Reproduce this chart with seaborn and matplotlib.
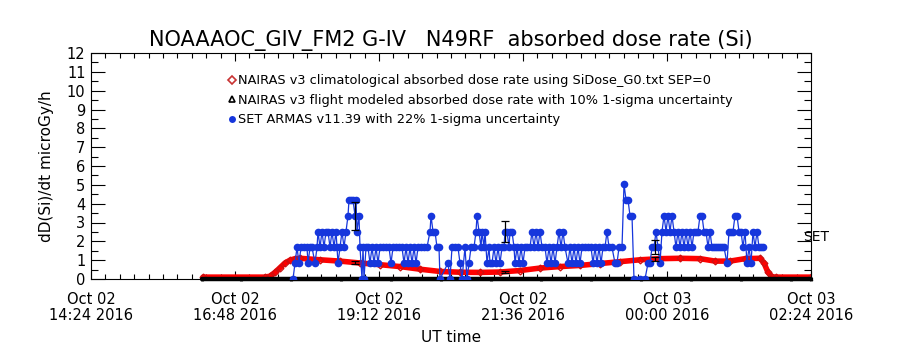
import numpy as np
import pandas as pd
import matplotlib
matplotlib.use("Agg")
import matplotlib.pyplot as plt
import matplotlib.ticker as mticker
import matplotlib.transforms as mtransforms
from matplotlib.lines import Line2D
import seaborn as sns

# ---------------- data (minutes after 2016-10-02 14:24 UT) ----------------
start_time = "2016-10-02 14:24"

clim_minutes = [112, 174, 179, 184, 189, 194, 199, 204, 209, 229, 249, 269, 289, 309,
                329, 349, 369, 389, 409, 429, 449, 469, 489, 509, 529, 549, 569, 589,
                609, 624, 639, 654, 669, 673, 677, 681, 685, 720]
clim_dose = [0.10, 0.10, 0.15, 0.35, 0.60, 0.85, 1.00, 1.08, 1.10, 1.02, 0.95, 0.85, 0.76, 0.66,
             0.52, 0.40, 0.36, 0.35, 0.37, 0.45, 0.58, 0.66, 0.72, 0.82, 0.92, 1.02, 1.08, 1.10,
             1.08, 0.95, 0.95, 1.08, 1.10, 0.85, 0.35, 0.12, 0.10, 0.10]

flight_minutes = [111, 150, 200, 250, 300, 350, 400, 450, 500, 550, 600, 650, 700, 720]
flight_dose = [0.0, 0.0, 0.0, 0.0, 0.0, 0.0, 0.0, 0.0, 0.0, 0.0, 0.0, 0.0, 0.0, 0.0]

set_minutes = [202, 204, 206, 208, 210, 213, 216, 217, 219, 221, 224, 226, 227, 229, 231, 233,
               235, 237, 239, 241, 243, 245, 246, 247, 249, 251, 253, 255, 257, 258, 260, 262,
               264, 265, 266, 268, 269, 271, 272, 273, 275, 277, 279, 281, 283, 285, 287, 289,
               292, 295, 298, 300, 302, 305, 308, 311, 313, 315, 317, 319, 321, 323, 325, 327,
               330, 333, 336, 339, 340, 342, 344, 346, 348, 349, 357, 359, 361, 364, 367, 369,
               371, 374, 376, 378, 380, 383, 385, 386, 388, 390, 391, 393, 394, 396, 398, 399,
               401, 403, 405, 407, 409, 411, 413, 414, 416, 418, 419, 421, 423, 424, 426, 428,
               430, 432, 434, 436, 439, 441, 443, 445, 447, 449, 451, 454, 456, 458, 460, 462,
               464, 466, 468, 470, 472, 474, 477, 479, 481, 483, 485, 487, 489, 491, 494, 497,
               500, 502, 504, 506, 508, 510, 512, 514, 516, 518, 521, 524, 526, 528, 531, 533,
               535, 537, 539, 541, 543, 549, 554, 557, 559, 561, 563, 565, 567, 569, 571, 573,
               575, 577, 579, 581, 583, 585, 587, 589, 591, 593, 595, 597, 599, 601, 603, 605,
               607, 609, 611, 613, 615, 617, 619, 621, 623, 625, 627, 629, 631, 633, 636, 638,
               640, 642, 644, 646, 648, 650, 652, 654, 656, 658, 660, 662, 664, 666, 668, 670,
               672]
set_dose = [0.00, 0.84, 1.68, 0.84, 1.68, 1.68, 1.68, 0.84, 1.68, 1.68, 0.84, 1.68, 2.52, 1.68, 2.52, 1.68,
            2.52, 2.52, 1.68, 2.52, 1.68, 2.52, 1.68, 0.84, 1.68, 2.52, 1.68, 2.52, 3.36, 4.20, 4.20, 4.20,
            3.36, 4.20, 2.52, 3.36, 1.68, 0.00, 1.68, 0.00, 1.68, 1.68, 0.84, 1.68, 0.84, 1.68, 0.84, 1.68,
            1.68, 1.68, 1.68, 0.84, 1.68, 1.68, 1.68, 1.68, 0.84, 1.68, 0.84, 1.68, 0.84, 1.68, 0.84, 1.68,
            1.68, 1.68, 1.68, 2.52, 3.36, 2.52, 2.52, 1.68, 1.68, 0.00, 0.84, 0.00, 1.68, 1.68, 1.68, 0.84,
            0.00, 1.68, 0.00, 0.84, 1.68, 1.68, 2.52, 3.36, 2.52, 1.68, 2.52, 1.68, 2.52, 0.84, 1.68, 0.84,
            0.84, 1.68, 0.84, 1.68, 0.84, 1.68, 1.68, 2.52, 2.52, 1.68, 2.52, 2.52, 1.68, 0.84, 1.68, 0.84,
            1.68, 0.84, 1.68, 1.68, 1.68, 2.52, 1.68, 2.52, 1.68, 2.52, 1.68, 1.68, 0.84, 1.68, 0.84, 1.68,
            0.84, 1.68, 2.52, 1.68, 2.52, 1.68, 0.84, 1.68, 0.84, 1.68, 0.84, 1.68, 0.84, 1.68, 1.68, 1.68,
            1.68, 0.84, 1.68, 0.84, 1.68, 0.84, 1.68, 1.68, 2.52, 1.68, 1.68, 0.84, 0.84, 1.68, 1.68, 5.04,
            4.20, 4.20, 3.36, 3.36, 0.00, 0.00, 0.00, 0.84, 0.84, 1.68, 1.68, 2.52, 1.68, 0.84, 2.52, 3.36,
            2.52, 3.36, 2.52, 3.36, 2.52, 1.68, 2.52, 1.68, 2.52, 1.68, 2.52, 1.68, 2.52, 1.68, 2.52, 2.52,
            2.52, 3.36, 3.36, 2.52, 2.52, 1.68, 2.52, 1.68, 1.68, 1.68, 1.68, 1.68, 1.68, 1.68, 0.84, 2.52,
            2.52, 2.52, 3.36, 3.36, 2.52, 2.52, 1.68, 2.52, 0.84, 1.68, 0.84, 2.52, 1.68, 2.52, 1.68, 1.68,
            1.68]

err_minutes = [264, 414, 564]
err_set_dose = [3.36, 2.52, 1.68]
err_set_sigma = [0.74, 0.55, 0.37]
err_model_dose = [0.87, 0.38, 1.06]
err_model_sigma = [0.09, 0.04, 0.11]

tick_minutes = [0, 144, 288, 432, 576, 720]
tick_labels = ["Oct 02\n14:24 2016", "Oct 02\n16:48 2016", "Oct 02\n19:12 2016",
               "Oct 02\n21:36 2016", "Oct 03\n00:00 2016", "Oct 03\n02:24 2016"]

legend_labels = ["NAIRAS v3 climatological absorbed dose rate using SiDose_G0.txt SEP=0",
                 "NAIRAS v3 flight modeled absorbed dose rate with 10% 1-sigma uncertainty",
                 "SET ARMAS v11.39 with 22% 1-sigma uncertainty"]

title = "NOAAAOC_GIV_FM2 G-IV   N49RF  absorbed dose rate (Si)"

# ---------------- build frames ----------------
t0 = pd.Timestamp(start_time)
def to_time(mins):
    return t0 + pd.to_timedelta(np.asarray(mins, dtype=float), unit="min")

clim_df = pd.DataFrame({"time": to_time(clim_minutes), "dose": clim_dose})
flight_df = pd.DataFrame({"time": to_time(flight_minutes), "dose": flight_dose})
set_df = pd.DataFrame({"time": to_time(set_minutes), "dose": set_dose})

# ---------------- style ----------------
sns.set_theme(style="ticks")
plt.rcParams["font.family"] = ["DejaVu Sans"]
plt.rcParams["text.color"] = "black"
plt.rcParams["axes.labelcolor"] = "black"
plt.rcParams["xtick.color"] = "black"
plt.rcParams["ytick.color"] = "black"
plt.rcParams["axes.edgecolor"] = "black"

BLUE = "#1636dc"
RED = "#ff0000"

fig = plt.figure(figsize=(9, 3.5), dpi=100)
ax = fig.add_axes([91 / 900, 71 / 350, 720 / 900, 226 / 350])

sns.lineplot(data=clim_df, x="time", y="dose", ax=ax, color=RED, linewidth=4.0,
             marker="D", markersize=3.5, markerfacecolor="none",
             markeredgecolor="#cc1010", markeredgewidth=0.9, zorder=2)
sns.lineplot(data=flight_df, x="time", y="dose", ax=ax, color="black", linewidth=3.2,
             marker="^", markersize=2, markerfacecolor="black", markeredgecolor="black",
             clip_on=False, zorder=3)
sns.lineplot(data=set_df, x="time", y="dose", ax=ax, color=BLUE, linewidth=0.9,
             marker="o", markersize=5.5, markeredgewidth=0, zorder=4)

ax.errorbar(to_time(err_minutes), err_set_dose, yerr=err_set_sigma, fmt="none",
            ecolor="black", elinewidth=0.9, capsize=3, capthick=0.9, zorder=5)
ax.errorbar(to_time(err_minutes), err_model_dose, yerr=err_model_sigma, fmt="none",
            ecolor="black", elinewidth=0.9, capsize=3, capthick=0.9, zorder=5)

ax.set_xlim(t0, t0 + pd.Timedelta(minutes=720))
ax.set_ylim(0, 12)

ax.set_xticks(list(to_time(tick_minutes)))
ax.set_xticklabels(tick_labels, fontsize=10.5, linespacing=1.1)
ax.xaxis.set_minor_locator(mticker.MultipleLocator(0.01))
ax.set_yticks(range(0, 13))
ax.set_yticklabels([str(v) for v in range(0, 13)], fontsize=10.5)
ax.yaxis.set_minor_locator(mticker.MultipleLocator(0.5))

ax.tick_params(axis="x", which="major", direction="in", length=6, width=0.8,
               top=True, bottom=True, pad=9)
ax.tick_params(axis="x", which="minor", direction="in", length=3.5, width=0.8,
               top=True, bottom=True)
ax.tick_params(axis="y", which="major", direction="in", length=10, width=0.8,
               left=True, right=True, pad=4)
ax.tick_params(axis="y", which="minor", direction="in", length=5, width=0.8,
               left=True, right=True)
for s in ax.spines.values():
    s.set_linewidth(0.8)
    s.set_visible(True)

ax.set_title(title, fontsize=15, pad=5)
ax.set_xlabel("UT time", fontsize=11)
ax.set_ylabel("dD(Si)/dt microGy/h", fontsize=11)
ax.xaxis.set_label_coords(0.5, -0.225)
ax.yaxis.set_label_coords(-0.052, 0.5)

trans = mtransforms.blended_transform_factory(ax.transAxes, ax.transData)
ax.text(0.989, 2.23, "SET", transform=trans, ha="left", va="center",
        fontsize=10, clip_on=False)

handles = [
    Line2D([], [], linestyle="none", marker="D", markersize=4, markerfacecolor="none",
           markeredgecolor="#c83232", markeredgewidth=1.2),
    Line2D([], [], linestyle="none", marker="^", markersize=5, markerfacecolor="none",
           markeredgecolor="black", markeredgewidth=1.2),
    Line2D([], [], linestyle="none", marker="o", markersize=5, markerfacecolor=BLUE,
           markeredgewidth=0),
]
ax.legend(handles, legend_labels, loc="upper left", bbox_to_anchor=(0.19, 0.905),
          frameon=False, fontsize=9.3, handlelength=0.6, handletextpad=0.2,
          labelspacing=0.5, borderpad=0, borderaxespad=0)

fig.savefig("out.png", dpi=100)
